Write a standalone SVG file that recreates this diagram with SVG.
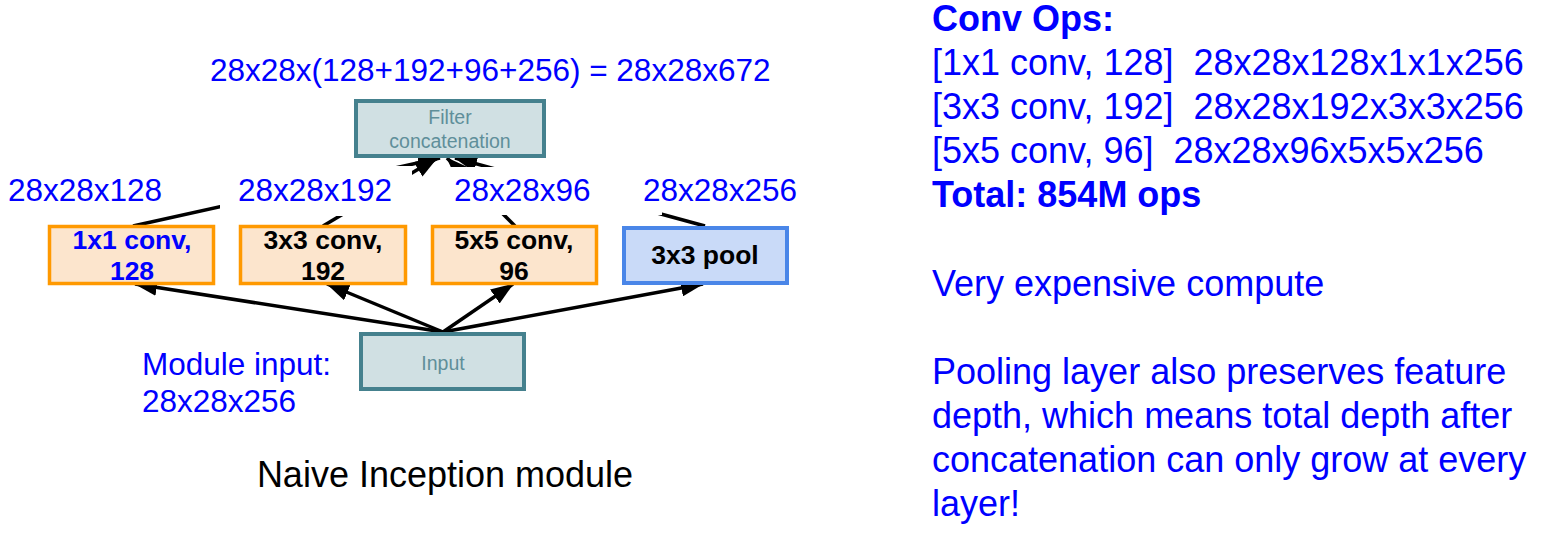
<svg xmlns="http://www.w3.org/2000/svg" width="1553" height="543" viewBox="0 0 1553 543">
<style>
  .lbl { font-family: "Liberation Sans", Arial, sans-serif; font-size: 31.5px; fill: #0000ff; }
  .side { font-family: "Liberation Sans", Arial, sans-serif; font-size: 36px; fill: #0000ff; white-space: pre; }
  .bold { font-weight: bold; }
  .conv { fill: #fce5cd; stroke: #ff9900; stroke-width: 3.5; }
  .pool { fill: #c9daf8; stroke: #4a86e8; stroke-width: 4; }
  .teal { fill: #d0e0e3; stroke: #45818e; stroke-width: 4; }
  .btxt { font-family: "Liberation Sans", Arial, sans-serif; font-size: 26.5px; font-weight: bold; text-anchor: middle; fill: #000000; }
  .ttxt { font-family: "Liberation Sans", Arial, sans-serif; font-size: 19.5px; text-anchor: middle; fill: #5f8f9a; }
  .edge { stroke: #000000; stroke-width: 3.5; fill: none; marker-end: url(#arr); }
</style>
<defs>
  <marker id="arr" markerUnits="userSpaceOnUse" markerWidth="23" markerHeight="17" viewBox="0 0 23 17" refX="22" refY="8.5" orient="auto">
    <path d="M0,0 L23,8.5 L0,17 z" fill="#000000"/>
  </marker>
</defs>
<rect x="0" y="0" width="1553" height="543" fill="#ffffff"/>

<g id="connectors">
  <line class="edge" x1="443" y1="332" x2="135" y2="284"/>
  <line class="edge" x1="443" y1="332" x2="327" y2="284"/>
  <line class="edge" x1="443" y1="332" x2="513" y2="284"/>
  <line class="edge" x1="443" y1="332" x2="703" y2="284"/>
  <line class="edge" x1="133" y1="226" x2="440" y2="158"/>
  <line class="edge" x1="323" y1="226" x2="437" y2="158"/>
  <line class="edge" x1="515" y1="226" x2="447" y2="158"/>
  <line class="edge" x1="705" y1="226" x2="455" y2="158"/>
</g>

<g id="label-backgrounds">
  <rect x="220" y="166" width="192" height="50" fill="#ffffff"/>
  <rect x="440" y="167" width="222" height="48" fill="#ffffff"/>
</g>

<g id="labels">
  <text class="lbl" x="210" y="81">28x28x(128+192+96+256) = 28x28x672</text>
  <text class="lbl" x="8" y="201">28x28x128</text>
  <text class="lbl" x="238" y="201">28x28x192</text>
  <text class="lbl" x="454" y="201">28x28x96</text>
  <text class="lbl" x="643" y="201">28x28x256</text>
  <text class="lbl" x="142" y="375">Module input:</text>
  <text class="lbl" x="142" y="412">28x28x256</text>
  <text x="445" y="487" text-anchor="middle" font-family="Liberation Sans, Arial, sans-serif" font-size="36" fill="#000000">Naive Inception module</text>
</g>

<g id="node-concat">
  <rect class="teal" x="356" y="101" width="188" height="55"/>
  <text class="ttxt" x="450" y="124">Filter</text>
  <text class="ttxt" x="450" y="148">concatenation</text>
</g>
<g id="node-conv1">
  <rect class="conv" x="49.5" y="226.5" width="164" height="57"/>
  <text class="btxt" x="132" y="249" style="fill:#0000ff">1x1 conv,</text>
  <text class="btxt" x="132" y="280" style="fill:#0000ff">128</text>
</g>
<g id="node-conv3">
  <rect class="conv" x="240.5" y="226.5" width="165" height="57"/>
  <text class="btxt" x="323" y="249">3x3 conv,</text>
  <text class="btxt" x="323" y="280">192</text>
</g>
<g id="node-conv5">
  <rect class="conv" x="432.5" y="226.5" width="164" height="57"/>
  <text class="btxt" x="514" y="249">5x5 conv,</text>
  <text class="btxt" x="514" y="280">96</text>
</g>
<g id="node-pool">
  <rect class="pool" x="624" y="228" width="163" height="55"/>
  <text class="btxt" x="705" y="264">3x3 pool</text>
</g>
<g id="node-input">
  <rect class="teal" x="361" y="334" width="163" height="55"/>
  <text class="ttxt" x="443" y="370">Input</text>
</g>

<g id="side-text">
  <text class="side bold" x="932" y="31">Conv Ops:</text>
  <text class="side" x="932" y="75" xml:space="preserve">[1x1 conv, 128]  28x28x128x1x1x256</text>
  <text class="side" x="932" y="119" xml:space="preserve">[3x3 conv, 192]  28x28x192x3x3x256</text>
  <text class="side" x="932" y="163" xml:space="preserve">[5x5 conv, 96]  28x28x96x5x5x256</text>
  <text class="side bold" x="932" y="207">Total: 854M ops</text>
  <text class="side" x="932" y="296">Very expensive compute</text>
  <text class="side" x="932" y="384">Pooling layer also preserves feature</text>
  <text class="side" x="932" y="428">depth, which means total depth after</text>
  <text class="side" x="932" y="472">concatenation can only grow at every</text>
  <text class="side" x="932" y="516">layer!</text>
</g>
</svg>
